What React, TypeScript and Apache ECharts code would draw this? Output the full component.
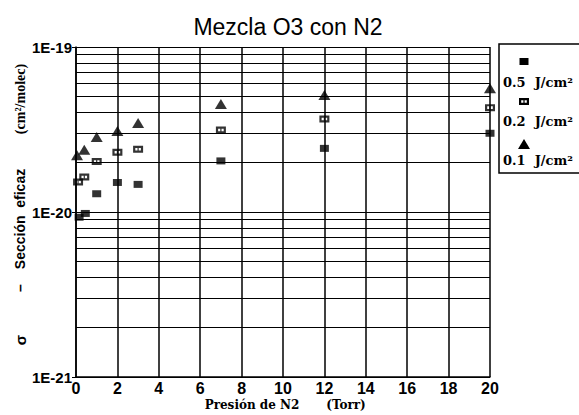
import React, { useEffect, useRef } from "react";
import * as echarts from "echarts";

const TITLE = "Mezcla O3 con N2";
const seriesNames = ["0.5  J/cm²", "0.2  J/cm²", "0.1  J/cm²"];
// Y values are in units of 1E-20 cm²/molec
const Y_UNIT_EXP = -20;
const x05 = [0.15, 0.45, 1, 2, 3, 7, 12, 20];
const y05 = [0.93, 0.98, 1.29, 1.51, 1.47, 2.04, 2.43, 3.0];
const x02 = [0.1, 0.4, 1, 2, 3, 7, 12, 20];
const y02 = [1.52, 1.63, 2.02, 2.3, 2.4, 3.14, 3.66, 4.29];
const x01 = [0.05, 0.4, 1, 2, 3, 7, 12, 20];
const y01 = [2.21, 2.38, 2.85, 3.1, 3.46, 4.52, 5.12, 5.62];
const decades = [0.1, 1];
const minorMultipliers = [2, 3, 4, 5, 6, 7, 8, 9];

const HATCH = "M0 0H10V7H0Z M2.2 2.2V4.8H4.4V2.2Z M5.6 2.2V4.8H7.8V2.2Z";

const SANS = "'Liberation Sans', Arial, sans-serif";
const SERIF = "'Liberation Serif', 'Times New Roman', serif";
const WSERIF = "'DejaVu Serif', serif";

export default function App() {
  const ref = useRef<HTMLDivElement>(null);
  useEffect(() => {
    document.body.style.margin = "0";
    if (!ref.current) return;
    try {
      echarts.graphic.registerShape("hatch", echarts.graphic.extendPath(HATCH, {}));
    } catch (e) {}
    const chart = echarts.init(ref.current, null, { renderer: "svg" });
    const minorValues = decades.flatMap((d) => minorMultipliers.map((m) => +(m * d).toFixed(3)));
    const zip = (xs: number[], ys: number[]) => xs.map((x, i) => [x, ys[i]]);
    const legendX = 524;
    const option: any = {
      animation: false,
      backgroundColor: "#fff",
      grid: { left: 76, right: 89, top: 47, bottom: 38 },
      xAxis: {
        type: "value",
        min: 0,
        max: 20,
        interval: 2,
        axisLine: { show: true, lineStyle: { color: "#000", width: 1.5 } },
        axisTick: { show: false },
        axisLabel: { color: "#000", fontFamily: SANS, fontWeight: "bold", fontSize: 16, margin: 3 },
        splitLine: { show: true, lineStyle: { color: "#000", width: 1.5 } },
      },
      yAxis: {
        type: "log",
        logBase: 10,
        min: 0.1,
        max: 10,
        axisLine: { show: true, lineStyle: { color: "#000", width: 1.5 } },
        axisTick: { show: true, inside: false, length: 4, lineStyle: { color: "#000" } },
        axisLabel: {
          color: "#000",
          fontFamily: SANS,
          fontWeight: "bold",
          fontSize: 15,
          margin: 4,
          formatter: (v: number) => "1E" + (Math.round(Math.log10(v)) + Y_UNIT_EXP),
        },
        splitLine: { show: true, lineStyle: { color: "#000", width: 1.2 } },
      },
      series: [
        {
          name: seriesNames[0],
          type: "scatter",
          data: zip(x05, y05),
          symbol: "rect",
          symbolSize: [9, 7],
          itemStyle: { color: "#000" },
          markLine: {
            silent: true,
            symbol: "none",
            label: { show: false },
            lineStyle: { color: "#000", width: 1, type: "solid" },
            data: minorValues.map((v) => ({ yAxis: v })),
          },
          z: 5,
        },
        {
          name: seriesNames[1],
          type: "scatter",
          data: zip(x02, y02),
          symbol: "path://" + HATCH,
          symbolSize: [10, 7],
          itemStyle: { color: "#000" },
          z: 5,
        },
        {
          name: seriesNames[2],
          type: "scatter",
          data: zip(x01, y01),
          symbol: "triangle",
          symbolSize: [12, 10],
          itemStyle: { color: "#000" },
          z: 5,
        },
      ],
      graphic: [
        {
          type: "text",
          x: 288,
          y: 27,
          style: {
            text: TITLE,
            fill: "#000",
            font: `23px ${SANS}`,
            textAlign: "center",
            textVerticalAlign: "middle",
          },
        },
        {
          type: "text",
          x: 252,
          y: 405,
          style: { text: "Presión de N2", fill: "#000", font: `bold 12px ${WSERIF}`, textAlign: "center", textVerticalAlign: "middle" },
        },
        {
          type: "text",
          x: 346,
          y: 405,
          style: { text: "(Torr)", fill: "#000", font: `bold 12px ${WSERIF}`, textAlign: "center", textVerticalAlign: "middle" },
        },
        {
          type: "text",
          x: 20,
          y: 340,
          rotation: Math.PI / 2,
          style: { text: "σ", fill: "#000", font: `bold 15px ${SANS}`, textAlign: "center", textVerticalAlign: "middle" },
        },
        {
          type: "text",
          x: 20,
          y: 288,
          rotation: Math.PI / 2,
          style: { text: "–", fill: "#000", font: `bold 14px ${SANS}`, textAlign: "center", textVerticalAlign: "middle" },
        },
        {
          type: "text",
          x: 20,
          y: 219,
          rotation: Math.PI / 2,
          style: { text: "Sección  eficaz", fill: "#000", font: `bold 14px ${SANS}`, textAlign: "center", textVerticalAlign: "middle" },
        },
        {
          type: "text",
          x: 20,
          y: 99,
          rotation: Math.PI / 2,
          style: { text: "(cm²/molec)", fill: "#000", font: `bold 14px ${SERIF}`, textAlign: "center", textVerticalAlign: "middle" },
        },
        {
          type: "rect",
          shape: { x: 499, y: 44, width: 86, height: 129 },
          style: { fill: "#fff", stroke: "#000", lineWidth: 1.5 },
        },
        {
          type: "rect",
          shape: { x: legendX - 4.5, y: 58, width: 9, height: 7 },
          style: { fill: "#000" },
        },
        {
          type: "text",
          x: 503,
          y: 82,
          style: { text: seriesNames[0], fill: "#000", font: `bold 13px ${WSERIF}`, textAlign: "left", textVerticalAlign: "middle" },
        },
        {
          type: "hatch",
          x: legendX - 5,
          y: 98,
          style: { fill: "#000" },
        },
        {
          type: "text",
          x: 503,
          y: 121,
          style: { text: seriesNames[1], fill: "#000", font: `bold 13px ${WSERIF}`, textAlign: "left", textVerticalAlign: "middle" },
        },
        {
          type: "polygon",
          shape: { points: [[legendX, 139], [legendX + 6, 149], [legendX - 6, 149]] },
          style: { fill: "#000" },
        },
        {
          type: "text",
          x: 503,
          y: 160,
          style: { text: seriesNames[2], fill: "#000", font: `bold 13px ${WSERIF}`, textAlign: "left", textVerticalAlign: "middle" },
        },
      ],
    };
    chart.setOption(option);
    return () => chart.dispose();
  }, []);
  return <div ref={ref} style={{ position: "absolute", left: 0, top: 0, width: 579, height: 415 }} />;
}
